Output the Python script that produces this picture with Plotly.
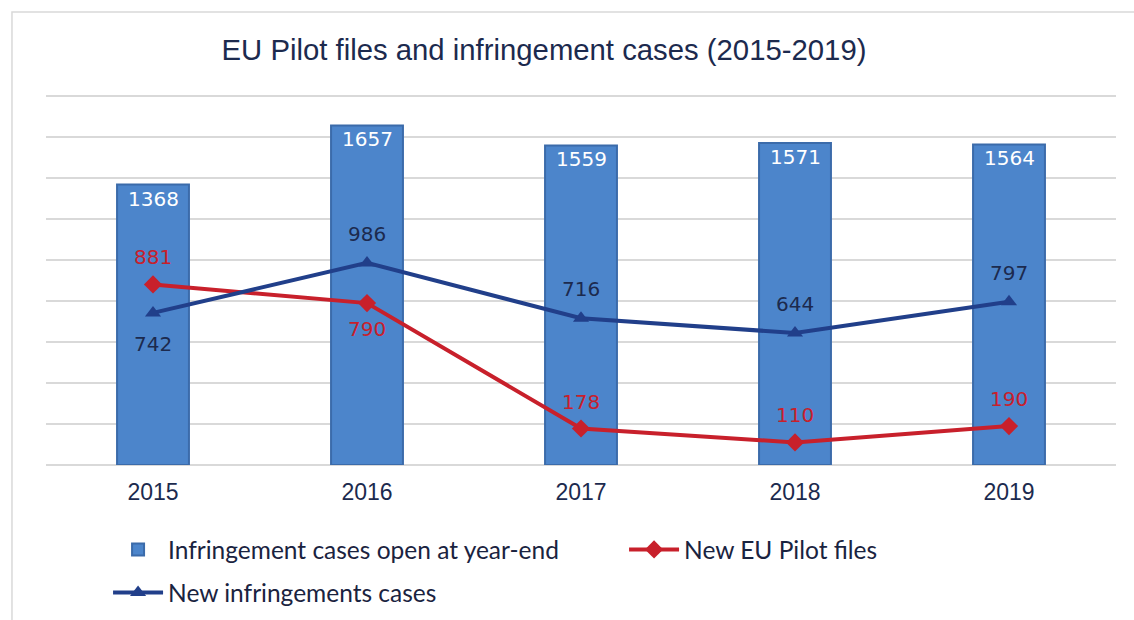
import plotly.graph_objects as go

years = [2015, 2016, 2017, 2018, 2019]
open_cases = [1368, 1657, 1559, 1571, 1564]
new_pilot = [881, 790, 178, 110, 190]
new_infr = [742, 986, 716, 644, 797]
pilot_label_pos = ["above", "below", "above", "above", "above"]
infr_label_pos = ["below", "above", "above", "above", "above"]
grid_vals = [0, 200, 400, 600, 800, 1000, 1200, 1400, 1600, 1800]

BAR = "#4C85CB"
RED = "#C8202B"
NAVY = "#213F8A"
TXT = "#1C2A4E"

fig = go.Figure()
fig.add_trace(go.Bar(
    x=years, y=open_cases, name="Infringement cases open at year-end",
    marker=dict(color=BAR, line=dict(color="#3B6BAA", width=2)),
    legend="legend",
))
fig.add_trace(go.Scatter(
    x=years, y=new_pilot, name="New EU Pilot files", mode="lines+markers",
    line=dict(color=RED, width=4), marker=dict(symbol="diamond", size=14, color=RED),
    legend="legend",
))
fig.add_trace(go.Scatter(
    x=years, y=new_infr, name="New infringements cases", mode="lines+markers",
    line=dict(color=NAVY, width=4), marker=dict(symbol="triangle-up", size=14, color=NAVY),
    legend="legend2",
))

ann = []
lab_font = "DejaVu Sans"
for x, v in zip(years, open_cases):
    ann.append(dict(x=x, y=v, xref="x", yref="y", text=str(v), showarrow=False,
                    yanchor="middle", yshift=-14, font=dict(family=lab_font, size=20, color="white")))
for x, v, p in zip(years, new_pilot, pilot_label_pos):
    ann.append(dict(x=x, y=v, xref="x", yref="y", text=str(v), showarrow=False,
                    yanchor="middle", yshift=27 if p == "above" else -26,
                    font=dict(family=lab_font, size=20, color=RED)))
for x, v, p in zip(years, new_infr, infr_label_pos):
    ann.append(dict(x=x, y=v, xref="x", yref="y", text=str(v), showarrow=False,
                    yanchor="middle", yshift=29 if p == "above" else -31,
                    font=dict(family=lab_font, size=20, color=TXT)))

# plot area: bottom at 465 px; 1800 at 96 px -> range top 1815 puts top edge at ~93 px
T = 93
H = 620 - T - 155
def py(yp):  # pixel row -> paper y
    return (465 - yp) / H

leg_font = dict(family="Lato", size=24.5, color="#1A2340")
fig.update_layout(
    width=1134, height=620,
    margin=dict(l=46, r=18, t=T, b=155, autoexpand=False),
    paper_bgcolor="white", plot_bgcolor="white",
    bargap=0.664,
    title=dict(text="EU Pilot files and infringement cases (2015-2019)",
               x=544 / 1134, xref="container", xanchor="center",
               y=1 - 50 / 620, yref="container", yanchor="middle",
               font=dict(family="Arial, Liberation Sans", size=29.3, color=TXT)),
    xaxis=dict(range=[2014.5, 2019.5], tickvals=years, showgrid=False, showline=False,
               zeroline=False, ticks="",
               tickfont=dict(family="Arial, Liberation Sans", size=23, color=TXT),
               ticklabelstandoff=11),
    yaxis=dict(range=[0, 1815], tickvals=grid_vals,
               showticklabels=False, showgrid=True,
               gridcolor="#D9D9D9", gridwidth=1.5, zeroline=True, zerolinecolor="#D9D9D9",
               zerolinewidth=1.5, showline=False),
    legend=dict(orientation="h", x=0.058, xanchor="left", y=py(527), yanchor="top",
                font=leg_font, entrywidth=451, entrywidthmode="pixels", itemwidth=50,
                bgcolor="rgba(0,0,0,0)"),
    legend2=dict(orientation="h", x=0.058, xanchor="left", y=py(570), yanchor="top",
                 font=leg_font, itemwidth=50, bgcolor="rgba(0,0,0,0)"),
    annotations=ann,
    shapes=[dict(type="rect", xref="paper", yref="paper", x0=-0.0318, x1=1.05,
                 y0=py(700), y1=py(12), line=dict(color="#D9D9D9", width=1.5),
                 fillcolor="rgba(0,0,0,0)", layer="below")],
    showlegend=True,
)

fig.write_html("out.html", config={"displayModeBar": False},
               post_script="document.body.style.margin='0';")
